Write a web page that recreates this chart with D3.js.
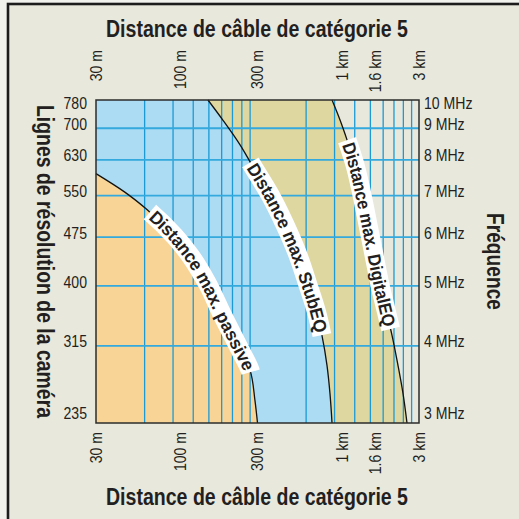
<!DOCTYPE html>
<html lang="fr">
<head>
<meta charset="UTF-8">
<title>Distance de câble de catégorie 5</title>
<style>
    body { margin: 0; background: #f1f1ee; }
    svg { display: block; }
    text { font-family: "Liberation Sans", Arial, Helvetica, sans-serif; fill: #231f20; }
</style>
</head>
<body>
<script src="https://d3js.org/d3.v7.min.js"></script>
<script>
    // Distance axis (metres)
    const distTicks = [30, 100, 300, 1000, 1600, 3000];
    const distLabels = ["30 m", "100 m", "300 m", "1 km", "1.6 km", "3 km"];
    const distGrid = [60, 90, 120, 150, 180, 210, 240, 270, 600, 900, 1200, 1500, 1800, 2100, 2400, 2700];

    // Frequency axis (MHz) and matching camera resolution lines
    const freqTicks = [10, 9, 8, 7, 6, 5, 4, 3];
    const freqLabels = ["10 MHz", "9 MHz", "8 MHz", "7 MHz", "6 MHz", "5 MHz", "4 MHz", "3 MHz"];
    const lineLabels = ["780", "700", "630", "550", "475", "400", "315", "235"];
    const freqGrid = [9, 8, 7, 6, 5, 4];

    // Max distance curves: [distance m, frequency MHz]
    const passive = [[30, 7.6], [45, 7.1], [62, 6.65], [92, 6.02], [115, 5.6], [146, 5.06], [181, 4.5], [234, 3.94], [270, 3.65], [289, 3.27], [300, 3]];
    const stubEQ = [[148, 10], [183, 9.28], [234, 8.46], [277, 7.85], [359, 7.02], [444, 6.28], [534, 5.61], [616, 5.02], [691, 4.57], [752, 4.16], [808, 3.72], [843, 3.35], [868, 3]];
    const digitalEQ = [[868, 10], [973, 9.28], [1075, 8.62], [1205, 7.85], [1331, 7.02], [1450, 6.28], [1580, 5.61], [1720, 5.02], [1874, 4.57], [2042, 4.16], [2223, 3.72], [2388, 3.35], [2528, 3]];

    const curveNames = ["Distance max. DigitalEQ", "Distance max. StubEQ", "Distance max. passive"];
    const curveColors = ["#ded79f", "#acdcf3", "#f8d596"];
    const labelStartFreq = [8.52, 7.85, 6.54];
    const labelLength = [188, 182, 185];
    const curves = [digitalEQ, stubEQ, passive];

    const W = 519, H = 519;
    const plot = {left: 96, right: 419, top: 100, bottom: 423};
    const squeeze = 0.88;

    const x = d3.scaleLog().domain([30, 3000]).range([plot.left, plot.right]);
    const y = d3.scaleLog().domain([3, 10]).range([plot.bottom, plot.top]);

    const svg = d3.select("body").append("svg")
        .attr("width", W)
        .attr("height", H);

    // frame
    svg.append("rect")
        .attr("x", 8).attr("y", 4)
        .attr("width", 560).attr("height", 560)
        .attr("fill", "#e8e8dd")
        .attr("stroke", "#1c1c1c")
        .attr("stroke-width", 2.6);

    // filled regions, widest first
    const area = d3.area()
        .curve(d3.curveMonotoneY)
        .x0(x(30))
        .x1(d => x(d[0]))
        .y(d => y(d[1]));

    svg.append("g").selectAll("path")
        .data(curves)
        .join("path")
            .attr("d", area)
            .attr("fill", (d, i) => curveColors[i]);

    // grid
    const grid = svg.append("g").attr("stroke", "#1b9ad6").attr("stroke-width", 1.3);
    grid.selectAll(".v")
        .data(distGrid)
        .join("line")
            .attr("x1", d => x(d)).attr("x2", d => x(d))
            .attr("y1", plot.top).attr("y2", plot.bottom);
    grid.selectAll(".h")
        .data(freqGrid)
        .join("line")
            .attr("stroke", "#33a9dd")
            .attr("stroke-width", 1.8)
            .attr("x1", plot.left).attr("x2", plot.right)
            .attr("y1", d => y(d)).attr("y2", d => y(d));

    // curves
    const line = d3.line()
        .curve(d3.curveMonotoneY)
        .x(d => x(d[0]))
        .y(d => y(d[1]));

    const curvePaths = svg.append("g").selectAll("path")
        .data(curves)
        .join("path")
            .attr("id", (d, i) => "curve" + i)
            .attr("d", line)
            .attr("fill", "none")
            .attr("stroke", "#111")
            .attr("stroke-width", 1.3);

    // plot border
    svg.append("rect")
        .attr("x", plot.left).attr("y", plot.top)
        .attr("width", plot.right - plot.left)
        .attr("height", plot.bottom - plot.top)
        .attr("fill", "none")
        .attr("stroke", "#2b2b2b")
        .attr("stroke-width", 1.5);

    // labels on curves, on a white band
    const bands = svg.append("g");
    const labels = svg.append("g");
    curvePaths.each(function (d, i) {
        const p = this;
        const total = p.getTotalLength();
        const target = y(labelStartFreq[i]);
        let lo = 0, hi = total;
        for (let k = 0; k < 30; k++) {
            const mid = (lo + hi) / 2;
            if (p.getPointAtLength(mid).y < target) lo = mid; else hi = mid;
        }
        const start = lo;
        const len = labelLength[i];
        labels.append("text")
            .attr("dy", "0.36em")
            .style("font-weight", "bold")
            .style("font-size", "18px")
          .append("textPath")
            .attr("href", "#curve" + i)
            .attr("startOffset", start)
            .attr("textLength", len)
            .attr("lengthAdjust", "spacingAndGlyphs")
            .text(curveNames[i]);
        bands.append("path")
            .attr("d", d3.select(p).attr("d"))
            .attr("fill", "none")
            .attr("stroke", "#fff")
            .attr("stroke-width", 19)
            .attr("stroke-dasharray", `0 ${start - 3} ${len + 6} ${total + 100}`);
    });

    // left axis: resolution lines
    const clampY = v => Math.max(plot.top + 3, Math.min(plot.bottom - 10, y(v) - 4));
    svg.append("g").selectAll("text")
        .data(freqTicks)
        .join("text")
            .attr("transform", d => `translate(87,${clampY(d)}) scale(${squeeze},1)`)
            .attr("dy", "0.35em")
            .attr("text-anchor", "end")
            .style("font-size", "16px")
            .text((d, i) => lineLabels[i]);

    // right axis: frequency
    svg.append("g").selectAll("text")
        .data(freqTicks)
        .join("text")
            .attr("transform", d => `translate(424,${clampY(d)}) scale(${squeeze},1)`)
            .attr("dy", "0.35em")
            .attr("text-anchor", "start")
            .style("font-size", "16px")
            .text((d, i) => freqLabels[i]);

    // top and bottom axes: distance
    [50, 432].forEach(edge => {
        svg.append("g").selectAll("text")
            .data(distTicks)
            .join("text")
                .attr("transform", d => `translate(${x(d)},${edge}) rotate(-90) scale(${squeeze},1)`)
                .attr("dy", "0.35em")
                .attr("text-anchor", "end")
                .style("font-size", "16px")
                .text((d, i) => distLabels[i]);
    });

    // titles
    const title = (tx, ty, rot, len, txt) => svg.append("text")
        .attr("transform", `translate(${tx},${ty}) rotate(${rot})`)
        .attr("text-anchor", "middle")
        .attr("textLength", len)
        .attr("lengthAdjust", "spacingAndGlyphs")
        .style("font-weight", "bold")
        .style("font-size", "23px")
        .text(txt);
    title(257, 37, 0, 302, "Distance de câble de catégorie 5");
    title(257, 505, 0, 302, "Distance de câble de catégorie 5");
    title(37, 261.5, 90, 313, "Lignes de résolution de la caméra");
    title(487, 261.5, 90, 97, "Fréquence");
</script>
</body>
</html>
